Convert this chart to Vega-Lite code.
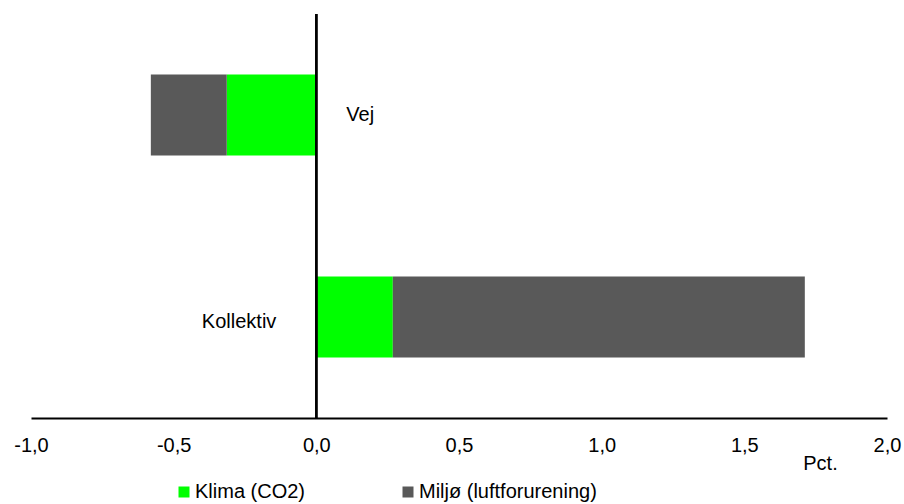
{
  "$schema": "https://vega.github.io/schema/vega-lite/v6.json",
  "width": 856,
  "height": 404,
  "autosize": {"type": "none"},
  "padding": {"left": 31, "top": 14, "right": 17, "bottom": 86},
  "background": "white",
  "config": {
    "view": {"stroke": null},
    "font": "Liberation Sans",
    "text": {"font": "Liberation Sans"}
  },
  "data": {
    "values": [
      {"kat": "Vej", "type": "Klima (CO2)", "v": -0.314, "o": 0},
      {"kat": "Vej", "type": "Miljø (luftforurening)", "v": -0.266, "o": 1},
      {"kat": "Kollektiv", "type": "Klima (CO2)", "v": 0.268, "o": 0},
      {"kat": "Kollektiv", "type": "Miljø (luftforurening)", "v": 1.444, "o": 1}
    ]
  },
  "layer": [
    {
      "mark": {"type": "bar"},
      "encoding": {
        "y": {"field": "kat", "type": "nominal", "sort": ["Vej", "Kollektiv"],
              "scale": {"paddingInner": 0.6, "paddingOuter": 0.3}, "axis": null},
        "x": {"field": "v", "type": "quantitative", "stack": "zero",
              "scale": {"domain": [-1, 2], "nice": false, "zero": false},
              "axis": {"values": [-1, -0.5, 0, 0.5, 1, 1.5, 2], "grid": false, "ticks": false, "tickSize": 0,
                       "domainColor": "black", "domainWidth": 2,
                       "labelExpr": "replace(replace(format(datum.value, '.1f'), '.', ','), '\u2212', '-')",
                       "labelFontSize": 20, "labelColor": "black", "labelPadding": 17, "labelFont": "Liberation Sans",
                       "labelFlush": false, "labelOverlap": false,
                       "title": "Pct.", "titleFontSize": 20, "titleFontWeight": "normal", "titleColor": "black",
                       "titleFont": "Liberation Sans", "titleX": 789, "titleY": 45, "titleAlign": "center", "titleBaseline": "middle"}},
        "color": {"field": "type", "type": "nominal",
                  "scale": {"domain": ["Klima (CO2)", "Miljø (luftforurening)"], "range": ["#00ff00", "#595959"]},
                  "legend": {"title": null, "orient": "none", "direction": "horizontal", "legendX": 143, "legendY": 468,
                             "symbolType": "square", "symbolSize": 121, "symbolStrokeWidth": 0, "symbolOpacity": 1,
                             "labelFontSize": 20, "labelColor": "black", "labelFont": "Liberation Sans",
                             "labelOffset": 1, "columnPadding": 92, "padding": 0, "labelLimit": 400}},
        "order": {"field": "o", "type": "quantitative"}
      }
    },
    {
      "mark": {"type": "rule", "color": "black", "strokeWidth": 2},
      "encoding": {"x": {"datum": 0}}
    },
    {
      "transform": [{"filter": "datum.kat === 'Vej' && datum.o === 0"}],
      "mark": {"type": "text", "align": "left", "baseline": "middle", "dx": 30, "fontSize": 20, "color": "black"},
      "encoding": {
        "y": {"field": "kat", "type": "nominal", "sort": ["Vej", "Kollektiv"]},
        "x": {"datum": 0},
        "text": {"field": "kat"}
      }
    },
    {
      "transform": [{"filter": "datum.kat === 'Kollektiv' && datum.o === 0"}],
      "mark": {"type": "text", "align": "right", "baseline": "middle", "dx": -40, "dy": 5, "fontSize": 20, "color": "black"},
      "encoding": {
        "y": {"field": "kat", "type": "nominal", "sort": ["Vej", "Kollektiv"]},
        "x": {"datum": 0},
        "text": {"field": "kat"}
      }
    }
  ]
}
